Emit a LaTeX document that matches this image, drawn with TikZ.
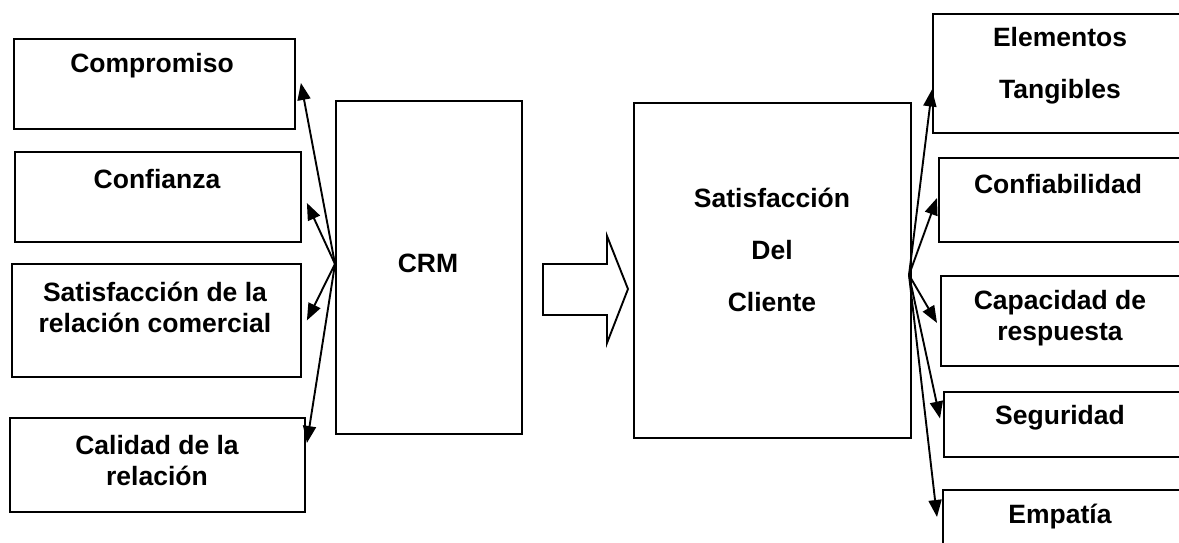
\documentclass[tikz,border=0pt]{standalone}
\usepackage{fontspec}
\setmainfont{Liberation Sans}
\usetikzlibrary{arrows.meta,calc}

\tikzset{
  box/.style={draw, line width=1.9pt, anchor=north west, inner sep=0pt},
  lbl/.style={font=\bfseries\fontsize{26.5}{31}\selectfont, align=center, inner sep=0pt},
  wide/.style={font=\bfseries\fontsize{26.5}{52}\selectfont, align=center, inner sep=0pt},
  link/.style={line width=1.9pt, -{Triangle[length=17pt,width=13pt]}},
  bigarrow/.style={draw, line width=1.9pt, line join=miter}
}

\begin{document}
\begin{tikzpicture}[x=1pt,y=-1pt]
\useasboundingbox (0,0) rectangle (1179,543);
\clip (0,0) rectangle (1179,543);

% left column
\node[box, minimum width=281pt, minimum height=90pt] (comp) at (13,38) {};
\node[box, minimum width=286pt, minimum height=90pt] (conf) at (14,151) {};
\node[box, minimum width=289pt, minimum height=113pt] (satrel) at (11,263) {};
\node[box, minimum width=295pt, minimum height=94pt] (cal) at (9,417) {};

\node[lbl] (tcomp) at (152,66) {Compromiso};
\node[lbl] (tconf) at (157,179) {Confianza};
\node[lbl] (tsatrel) at (155,307) {Satisfacción de la\\relación comercial};
\node[lbl] (tcal) at (157,461) {Calidad de la\\relación};

% CRM
\node[box, minimum width=186pt, minimum height=333pt] (crm) at (335,100) {};
\node[lbl] (tcrm) at (428,263) {CRM};

% outcome
\node[box, minimum width=277pt, minimum height=335pt] (sat) at (633,102) {};
\node[wide] (tsat) at (772,250) {Satisfacción\\Del\\Cliente};

% right column
\node[box, minimum width=280pt, minimum height=119pt] (tang) at (932,13) {};
\node[box, minimum width=280pt, minimum height=84pt] (fiab) at (938,157) {};
\node[box, minimum width=280pt, minimum height=90pt] (cap) at (940,275) {};
\node[box, minimum width=280pt, minimum height=65pt] (seg) at (943,391) {};
\node[box, minimum width=280pt, minimum height=90pt] (emp) at (942,489) {};

\node[wide] (ttang) at (1060,66) {Elementos\\Tangibles};
\node[lbl] (tfiab) at (1058,184) {Confiabilidad};
\node[lbl] (tcap) at (1060,318) {Capacidad de\\respuesta};
\node[lbl] (tseg) at (1060,418) {Seguridad};
\node[lbl] (temp) at (1060,517) {Empatía};

% block arrow between the two main boxes
\draw[bigarrow] (543,264) -- (607,264) -- (607,236) -- (628,289)
  -- (607,343) -- (607,315) -- (543,315) -- cycle;

% fan-out points
\coordinate (hl) at (335,264);
\coordinate (hr) at (909,275);

\draw[link] (hl) -- ($(comp.east)+(5,-1)$);
\draw[link] (hl) -- ($(conf.east)+(5,6)$);
\draw[link] (hl) -- ($(satrel.east)+(5,0)$);
\draw[link] (hl) -- ($(cal.north east)+(1,26)$);

\draw[link] (hr) -- ($(tang.west)+(0,16)$);
\draw[link] (hr) -- ($(fiab.west)+(-1,-2)$);
\draw[link] (hr) -- ($(cap.west)+(-3,2)$);
\draw[link] (hr) -- ($(seg.west)+(-3,-6)$);
\draw[link] (hr) -- ($(emp.north west)+(-5,28)$);
\end{tikzpicture}
\end{document}
